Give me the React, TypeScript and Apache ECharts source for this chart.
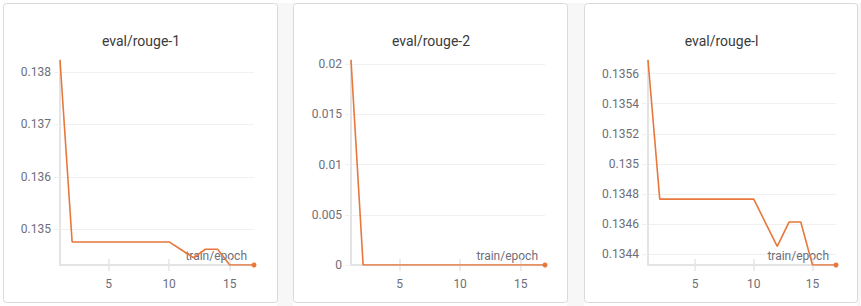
import React, { useEffect, useRef } from "react";
import * as echarts from "echarts";

// Training epochs at which evaluation ran
const epochs = [1, 2, 3, 4, 5, 6, 7, 8, 9, 10, 11, 12, 13, 14, 15, 16, 17];

// Evaluation metrics per epoch
const rouge1 = [
  0.13823, 0.13476, 0.13476, 0.13476, 0.13476, 0.13476, 0.13476, 0.13476, 0.13476,
  0.13476, 0.13461, 0.13446, 0.13462, 0.13462, 0.13432, 0.13432, 0.13432,
];
const rouge2 = [0.0204, 0, 0, 0, 0, 0, 0, 0, 0, 0, 0, 0, 0, 0, 0, 0, 0];
const rougeL = [
  0.13569, 0.134767, 0.134767, 0.134767, 0.134767, 0.134767, 0.134767, 0.134767, 0.134767,
  0.134767, 0.13461, 0.134453, 0.134615, 0.134615, 0.13433, 0.13433, 0.13433,
];

// Axis tick values
const xTicks = [5, 10, 15];
const rouge1Ticks = [0.135, 0.136, 0.137, 0.138];
const rouge2Ticks = [0, 0.005, 0.01, 0.015, 0.02];
const rougeLTicks = [0.1344, 0.1346, 0.1348, 0.135, 0.1352, 0.1354, 0.1356];

const titles = ["eval/rouge-1", "eval/rouge-2", "eval/rouge-l"];
const xAxisName = "train/epoch";

const LINE_COLOR = "#e8773c";
const AXIS_COLOR = "#e4e4e4";
const GRID_COLOR = "#f0f0f0";
const LABEL_COLOR = "#6e6e78";
const FONT = "Roboto, 'Noto Sans', sans-serif";

// Panel frames and plot areas (page px)
const panels = [
  { x: 3, w: 274, plotLeft: 60, plotWidth: 194 },
  { x: 293, w: 274, plotLeft: 351, plotWidth: 194 },
  { x: 584, w: 273, plotLeft: 648, plotWidth: 188 },
];
const PANEL_TOP = 3;
const PANEL_H = 299;
const PLOT_TOP = 60;
const PLOT_H = 205;

export default function App() {
  const ref = useRef<HTMLDivElement>(null);

  useEffect(() => {
    if (!ref.current) return;
    const chart = echarts.init(ref.current, undefined, { renderer: "svg" });

    const seriesValues = [rouge1, rouge2, rougeL];
    const yTicks = [rouge1Ticks, rouge2Ticks, rougeLTicks];

    const grids: any[] = [];
    const xAxes: any[] = [];
    const yAxes: any[] = [];
    const series: any[] = [];
    const graphics: any[] = [];

    // gray gutters between panels
    graphics.push(
      { type: "rect", z: -10, shape: { x: 277, y: 3, width: 16, height: 303 }, style: { fill: "#f7f7f7" } },
      { type: "rect", z: -10, shape: { x: 567, y: 3, width: 17, height: 303 }, style: { fill: "#f7f7f7" } },
      { type: "rect", z: -10, shape: { x: 857, y: 3, width: 4, height: 303 }, style: { fill: "#f7f7f7" } }
    );

    panels.forEach((p, i) => {
      graphics.push({
        type: "rect",
        z: -5,
        shape: { x: p.x + 0.5, y: PANEL_TOP + 0.5, width: p.w, height: PANEL_H, r: 3 },
        style: { fill: "#ffffff", stroke: "#d9d9d9", lineWidth: 1 },
      });
      graphics.push({
        type: "text",
        x: p.x + p.w / 2 + 1,
        y: 41,
        style: {
          text: titles[i],
          textAlign: "center",
          textVerticalAlign: "middle",
          fill: "#3b3b3b",
          fontSize: 14,
          fontFamily: FONT,
        },
      });

      grids.push({ left: p.plotLeft, top: PLOT_TOP, width: p.plotWidth, height: PLOT_H });

      // main x axis: labels, outward tick half, axis name
      xAxes.push({
        type: "value",
        gridIndex: i,
        min: 1,
        max: 17,
        name: xAxisName,
        nameLocation: "end",
        nameGap: -7,
        nameTextStyle: {
          color: LABEL_COLOR,
          fontSize: 12,
          fontFamily: FONT,
          align: "right",
          verticalAlign: "bottom",
          padding: [0, 0, 3, 0],
        },
        axisLine: { show: true, onZero: false, lineStyle: { color: AXIS_COLOR, width: 2 } },
        axisTick: { show: true, length: 6, customValues: xTicks, lineStyle: { color: AXIS_COLOR, width: 1.5 } },
        axisLabel: { customValues: xTicks, color: LABEL_COLOR, fontSize: 12, fontFamily: FONT, margin: 13 },
        splitLine: { show: false },
      });
      // overlay x axis: inward tick half so ticks cross the axis line
      xAxes.push({
        type: "value",
        gridIndex: i,
        min: 1,
        max: 17,
        position: "bottom",
        axisLine: { show: false, onZero: false },
        axisTick: { show: true, inside: true, length: 6, customValues: xTicks, lineStyle: { color: AXIS_COLOR, width: 1.5 } },
        axisLabel: { show: false },
        splitLine: { show: false },
      });

      yAxes.push({
        type: "value",
        gridIndex: i,
        min: "dataMin",
        max: "dataMax",
        axisLine: { show: true, lineStyle: { color: AXIS_COLOR, width: 2 } },
        axisTick: { show: true, length: 6, customValues: yTicks[i], lineStyle: { color: GRID_COLOR } },
        axisLabel: { customValues: yTicks[i], color: LABEL_COLOR, fontSize: 12, fontFamily: FONT, margin: 9 },
        splitLine: { show: true, lineStyle: { color: GRID_COLOR, width: 1 } },
      });

      const vals = seriesValues[i];
      series.push({
        type: "line",
        xAxisIndex: i * 2,
        yAxisIndex: i,
        symbol: "none",
        showSymbol: true,
        lineStyle: { color: LINE_COLOR, width: 1.6 },
        itemStyle: { color: LINE_COLOR },
        z: 5,
        data: epochs.map((e, k) =>
          k === epochs.length - 1
            ? { value: [e, vals[k]], symbol: "circle", symbolSize: 5 }
            : [e, vals[k]]
        ),
      });
    });

    chart.setOption({
      animation: false,
      backgroundColor: "#ffffff",
      graphic: graphics,
      grid: grids,
      xAxis: xAxes,
      yAxis: yAxes,
      series,
    });

    return () => chart.dispose();
  }, []);

  return (
    <div
      ref={ref}
      style={{ position: "absolute", left: 0, top: 0, width: 861, height: 306 }}
    />
  );
}
